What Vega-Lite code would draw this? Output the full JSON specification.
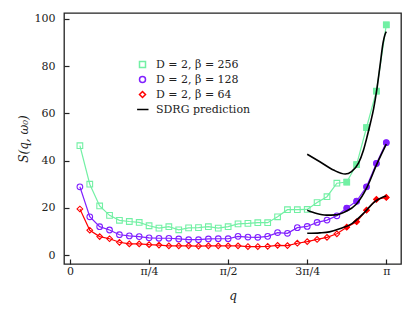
{
  "$schema": "https://vega.github.io/schema/vega-lite/v6.json",
  "width": 337,
  "height": 251,
  "autosize": {"type": "none"},
  "padding": {"left": 64, "top": 13, "right": 14, "bottom": 55},
  "background": "white",
  "config": {
    "font": "DejaVu Serif",
    "view": {"stroke": "#222222", "strokeWidth": 1.3},
    "axis": {"grid": false, "domain": false, "tickColor": "#222222", "tickWidth": 1.2, "labelFont": "DejaVu Serif", "labelFontSize": 11, "labelColor": "#222222", "titleFont": "DejaVu Serif", "titleFontSize": 12, "titleFontWeight": "normal", "titleColor": "#222222"}
  },
  "datasets": {
    "pts": [
      {"series": "D = 2, β = 256", "q": 0.03125, "S": 46.3},
      {"series": "D = 2, β = 256", "q": 0.0625, "S": 30.0},
      {"series": "D = 2, β = 256", "q": 0.09375, "S": 20.8},
      {"series": "D = 2, β = 256", "q": 0.125, "S": 16.8},
      {"series": "D = 2, β = 256", "q": 0.15625, "S": 14.7},
      {"series": "D = 2, β = 256", "q": 0.1875, "S": 14.2},
      {"series": "D = 2, β = 256", "q": 0.21875, "S": 13.8},
      {"series": "D = 2, β = 256", "q": 0.25, "S": 12.4},
      {"series": "D = 2, β = 256", "q": 0.28125, "S": 11.4},
      {"series": "D = 2, β = 256", "q": 0.3125, "S": 12.0},
      {"series": "D = 2, β = 256", "q": 0.34375, "S": 10.7},
      {"series": "D = 2, β = 256", "q": 0.375, "S": 11.5},
      {"series": "D = 2, β = 256", "q": 0.40625, "S": 11.6},
      {"series": "D = 2, β = 256", "q": 0.4375, "S": 12.0},
      {"series": "D = 2, β = 256", "q": 0.46875, "S": 11.4},
      {"series": "D = 2, β = 256", "q": 0.5, "S": 12.0},
      {"series": "D = 2, β = 256", "q": 0.53125, "S": 13.2},
      {"series": "D = 2, β = 256", "q": 0.5625, "S": 13.4},
      {"series": "D = 2, β = 256", "q": 0.59375, "S": 13.7},
      {"series": "D = 2, β = 256", "q": 0.625, "S": 13.7},
      {"series": "D = 2, β = 256", "q": 0.65625, "S": 16.2},
      {"series": "D = 2, β = 256", "q": 0.6875, "S": 19.2},
      {"series": "D = 2, β = 256", "q": 0.71875, "S": 19.2},
      {"series": "D = 2, β = 256", "q": 0.75, "S": 19.3},
      {"series": "D = 2, β = 256", "q": 0.78125, "S": 22.2},
      {"series": "D = 2, β = 256", "q": 0.8125, "S": 24.7},
      {"series": "D = 2, β = 256", "q": 0.84375, "S": 30.4},
      {"series": "D = 2, β = 256", "q": 0.875, "S": 30.9},
      {"series": "D = 2, β = 256", "q": 0.90625, "S": 38.3},
      {"series": "D = 2, β = 256", "q": 0.9375, "S": 54.0},
      {"series": "D = 2, β = 256", "q": 0.96875, "S": 69.4},
      {"series": "D = 2, β = 256", "q": 1.0, "S": 97.5},
      {"series": "D = 2, β = 128", "q": 0.03125, "S": 28.9},
      {"series": "D = 2, β = 128", "q": 0.0625, "S": 16.2},
      {"series": "D = 2, β = 128", "q": 0.09375, "S": 12.0},
      {"series": "D = 2, β = 128", "q": 0.125, "S": 10.6},
      {"series": "D = 2, β = 128", "q": 0.15625, "S": 8.6},
      {"series": "D = 2, β = 128", "q": 0.1875, "S": 8.1},
      {"series": "D = 2, β = 128", "q": 0.21875, "S": 7.8},
      {"series": "D = 2, β = 128", "q": 0.25, "S": 7.3},
      {"series": "D = 2, β = 128", "q": 0.28125, "S": 7.1},
      {"series": "D = 2, β = 128", "q": 0.3125, "S": 7.1},
      {"series": "D = 2, β = 128", "q": 0.34375, "S": 6.8},
      {"series": "D = 2, β = 128", "q": 0.375, "S": 6.5},
      {"series": "D = 2, β = 128", "q": 0.40625, "S": 6.5},
      {"series": "D = 2, β = 128", "q": 0.4375, "S": 6.8},
      {"series": "D = 2, β = 128", "q": 0.46875, "S": 6.9},
      {"series": "D = 2, β = 128", "q": 0.5, "S": 6.9},
      {"series": "D = 2, β = 128", "q": 0.53125, "S": 7.9},
      {"series": "D = 2, β = 128", "q": 0.5625, "S": 7.6},
      {"series": "D = 2, β = 128", "q": 0.59375, "S": 7.5},
      {"series": "D = 2, β = 128", "q": 0.625, "S": 7.9},
      {"series": "D = 2, β = 128", "q": 0.65625, "S": 9.5},
      {"series": "D = 2, β = 128", "q": 0.6875, "S": 9.2},
      {"series": "D = 2, β = 128", "q": 0.71875, "S": 11.6},
      {"series": "D = 2, β = 128", "q": 0.75, "S": 12.1},
      {"series": "D = 2, β = 128", "q": 0.78125, "S": 13.8},
      {"series": "D = 2, β = 128", "q": 0.8125, "S": 14.8},
      {"series": "D = 2, β = 128", "q": 0.84375, "S": 16.6},
      {"series": "D = 2, β = 128", "q": 0.875, "S": 19.9},
      {"series": "D = 2, β = 128", "q": 0.90625, "S": 22.8},
      {"series": "D = 2, β = 128", "q": 0.9375, "S": 28.9},
      {"series": "D = 2, β = 128", "q": 0.96875, "S": 38.8},
      {"series": "D = 2, β = 128", "q": 1.0, "S": 47.6},
      {"series": "D = 2, β = 64", "q": 0.03125, "S": 19.5},
      {"series": "D = 2, β = 64", "q": 0.0625, "S": 10.5},
      {"series": "D = 2, β = 64", "q": 0.09375, "S": 7.8},
      {"series": "D = 2, β = 64", "q": 0.125, "S": 6.9},
      {"series": "D = 2, β = 64", "q": 0.15625, "S": 5.4},
      {"series": "D = 2, β = 64", "q": 0.1875, "S": 4.7},
      {"series": "D = 2, β = 64", "q": 0.21875, "S": 4.7},
      {"series": "D = 2, β = 64", "q": 0.25, "S": 4.4},
      {"series": "D = 2, β = 64", "q": 0.28125, "S": 4.2},
      {"series": "D = 2, β = 64", "q": 0.3125, "S": 3.9},
      {"series": "D = 2, β = 64", "q": 0.34375, "S": 3.9},
      {"series": "D = 2, β = 64", "q": 0.375, "S": 3.9},
      {"series": "D = 2, β = 64", "q": 0.40625, "S": 3.8},
      {"series": "D = 2, β = 64", "q": 0.4375, "S": 3.9},
      {"series": "D = 2, β = 64", "q": 0.46875, "S": 3.9},
      {"series": "D = 2, β = 64", "q": 0.5, "S": 3.9},
      {"series": "D = 2, β = 64", "q": 0.53125, "S": 3.9},
      {"series": "D = 2, β = 64", "q": 0.5625, "S": 3.6},
      {"series": "D = 2, β = 64", "q": 0.59375, "S": 3.6},
      {"series": "D = 2, β = 64", "q": 0.625, "S": 3.7},
      {"series": "D = 2, β = 64", "q": 0.65625, "S": 4.1},
      {"series": "D = 2, β = 64", "q": 0.6875, "S": 4.0},
      {"series": "D = 2, β = 64", "q": 0.71875, "S": 5.0},
      {"series": "D = 2, β = 64", "q": 0.75, "S": 5.7},
      {"series": "D = 2, β = 64", "q": 0.78125, "S": 6.6},
      {"series": "D = 2, β = 64", "q": 0.8125, "S": 7.5},
      {"series": "D = 2, β = 64", "q": 0.84375, "S": 9.0},
      {"series": "D = 2, β = 64", "q": 0.875, "S": 11.8},
      {"series": "D = 2, β = 64", "q": 0.90625, "S": 14.1},
      {"series": "D = 2, β = 64", "q": 0.9375, "S": 19.0},
      {"series": "D = 2, β = 64", "q": 0.96875, "S": 23.6},
      {"series": "D = 2, β = 64", "q": 1.0, "S": 24.4}
    ],
    "sdrg": [
      {"series": "SDRG prediction", "curve": "256", "q": 0.75, "S": 42.7},
      {"series": "SDRG prediction", "curve": "256", "q": 0.79, "S": 39.5},
      {"series": "SDRG prediction", "curve": "256", "q": 0.833, "S": 36.0},
      {"series": "SDRG prediction", "curve": "256", "q": 0.87, "S": 34.3},
      {"series": "SDRG prediction", "curve": "256", "q": 0.89, "S": 35.3},
      {"series": "SDRG prediction", "curve": "256", "q": 0.912, "S": 38.9},
      {"series": "SDRG prediction", "curve": "256", "q": 0.928, "S": 44.5},
      {"series": "SDRG prediction", "curve": "256", "q": 0.94, "S": 50.5},
      {"series": "SDRG prediction", "curve": "256", "q": 0.95, "S": 56.0},
      {"series": "SDRG prediction", "curve": "256", "q": 0.96, "S": 62.0},
      {"series": "SDRG prediction", "curve": "256", "q": 0.97, "S": 70.0},
      {"series": "SDRG prediction", "curve": "256", "q": 0.98, "S": 80.0},
      {"series": "SDRG prediction", "curve": "256", "q": 0.99, "S": 90.0},
      {"series": "SDRG prediction", "curve": "256", "q": 0.995, "S": 93.0},
      {"series": "SDRG prediction", "curve": "256", "q": 1.0, "S": 94.6},
      {"series": "SDRG prediction", "curve": "128", "q": 0.75, "S": 19.0},
      {"series": "SDRG prediction", "curve": "128", "q": 0.78, "S": 17.6},
      {"series": "SDRG prediction", "curve": "128", "q": 0.81, "S": 16.9},
      {"series": "SDRG prediction", "curve": "128", "q": 0.84, "S": 17.0},
      {"series": "SDRG prediction", "curve": "128", "q": 0.87, "S": 18.3},
      {"series": "SDRG prediction", "curve": "128", "q": 0.905, "S": 21.5},
      {"series": "SDRG prediction", "curve": "128", "q": 0.94, "S": 29.0},
      {"series": "SDRG prediction", "curve": "128", "q": 0.97, "S": 38.5},
      {"series": "SDRG prediction", "curve": "128", "q": 1.0, "S": 47.0},
      {"series": "SDRG prediction", "curve": "64", "q": 0.75, "S": 9.2},
      {"series": "SDRG prediction", "curve": "64", "q": 0.79, "S": 9.4},
      {"series": "SDRG prediction", "curve": "64", "q": 0.82, "S": 9.8},
      {"series": "SDRG prediction", "curve": "64", "q": 0.855, "S": 11.2},
      {"series": "SDRG prediction", "curve": "64", "q": 0.89, "S": 13.2},
      {"series": "SDRG prediction", "curve": "64", "q": 0.93, "S": 17.9},
      {"series": "SDRG prediction", "curve": "64", "q": 0.96, "S": 22.2},
      {"series": "SDRG prediction", "curve": "64", "q": 0.99, "S": 24.6},
      {"series": "SDRG prediction", "curve": "64", "q": 1.0, "S": 25.0}
    ]
  },
  "encoding": {
    "x": {
      "field": "q", "type": "quantitative",
      "scale": {"domain": [-0.019, 1.0465], "nice": false, "zero": false},
      "axis": {"values": [0, 0.25, 0.5, 0.75, 1], "tickSize": -5, "labelPadding": 6, "labelExpr": "datum.value == 0 ? '0' : datum.value == 0.25 ? 'π/4' : datum.value == 0.5 ? 'π/2' : datum.value == 0.75 ? '3π/4' : 'π'", "title": "q", "titleFontStyle": "italic", "titlePadding": 14}
    },
    "y": {
      "field": "S", "type": "quantitative",
      "scale": {"domain": [-3.8, 102.5], "nice": false, "zero": false},
      "axis": {"values": [0, 20, 40, 60, 80, 100], "tickSize": -5, "labelPadding": 14, "title": "S(q, ω₀)", "titleFontStyle": "italic", "titlePadding": 4}
    },
    "color": {"field": "series", "type": "nominal", "scale": {"domain": ["D = 2, β = 256", "D = 2, β = 128", "D = 2, β = 64", "SDRG prediction"], "range": ["#72f0a4", "#8020ff", "#ff0000", "#000000"]},
      "legend": {"title": null, "orient": "none", "legendX": 73, "legendY": 46, "padding": 0, "labelFont": "DejaVu Serif", "labelFontSize": 11, "labelColor": "#222222", "symbolSize": 36, "symbolStrokeWidth": 1.5, "rowPadding": 2, "labelOffset": 8,
        "encode": {"symbols": {"update": {"fill": {"value": "transparent"}, "fillOpacity": {"value": 0}, "strokeWidth": {"value": 1.5}}}}}}
  },
  "layer": [
    {
      "data": {"name": "pts"},
      "mark": {"type": "line", "strokeWidth": 1.2}
    },
    {
      "data": {"name": "pts"},
      "mark": {"type": "point", "filled": false, "strokeWidth": 1.1, "opacity": 1},
      "encoding": {
        "shape": {"field": "series", "type": "nominal", "scale": {"domain": ["D = 2, β = 256", "D = 2, β = 128", "D = 2, β = 64", "SDRG prediction"], "range": ["square", "circle", "diamond", "M-1.8,0H2"]}},
        "size": {"value": 32}
      }
    },
    {
      "data": {"name": "pts"},
      "transform": [{"filter": "datum.q >= 0.86"}],
      "mark": {"type": "point", "filled": true, "opacity": 1},
      "encoding": {
        "shape": {"field": "series", "type": "nominal", "scale": {"domain": ["D = 2, β = 256", "D = 2, β = 128", "D = 2, β = 64", "SDRG prediction"], "range": ["square", "circle", "diamond", "M-1.8,0H2"]}},
        "size": {"value": 40}
      }
    },
    {
      "data": {"name": "sdrg"},
      "mark": {"type": "line", "strokeWidth": 1.6, "interpolate": "monotone"},
      "encoding": {
        "detail": {"field": "curve", "type": "nominal"}
      }
    }
  ]
}
